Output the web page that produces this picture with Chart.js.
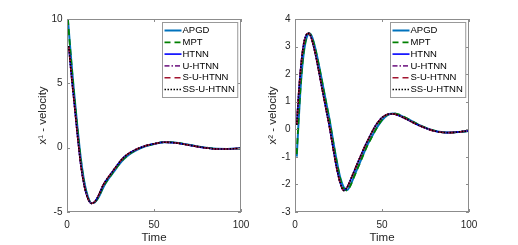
<!DOCTYPE html>
<html>
<head>
<meta charset="utf-8">
<script src="https://cdn.jsdelivr.net/npm/chart.js@4.4.0/dist/chart.umd.min.js"></script>
<style>
  body { margin: 0; background: #fff; }
  .panel { position: absolute; top: 0; width: 259px; height: 245px; }
</style>
</head>
<body>
<div class="panel" style="left:0"><canvas id="plot1" width="259" height="245"></canvas></div>
<div class="panel" style="left:259px"><canvas id="plot2" width="259" height="245"></canvas></div>
<script>
//DATOS
const seriesNames = ['APGD', 'MPT', 'HTNN', 'U-HTNN', 'S-U-HTNN', 'SS-U-HTNN'];
const xTicks = [0, 50, 100];
const yTicks1 = [-5, 0, 5, 10];
const yTicks2 = [-3, -2, -1, 0, 1, 2, 3, 4];

// x^1 velocity
const time1Start = [0.5, 1, 2, 3, 4, 6, 8, 10, 12, 14, 16, 18, 21, 24, 27, 30, 33, 36, 40, 45, 50, 56, 62, 68, 74, 80, 86, 92, 100];
const vel1Apgd = [10, 9.2, 7.5, 5.9, 4.4, 1.6, -0.9, -2.7, -3.8, -4.3, -4.25, -3.9, -3.05, -2.4, -1.85, -1.3, -0.85, -0.5, -0.18, 0.1, 0.28, 0.42, 0.4, 0.27, 0.12, 0.0, -0.09, -0.1, -0.05];
const vel1Mpt = [10, 9.1, 7.4, 5.8, 4.3, 1.5, -1.0, -2.8, -3.85, -4.3, -4.22, -3.88, -3.0, -2.38, -1.82, -1.28, -0.82, -0.48, -0.16, 0.11, 0.29, 0.43, 0.4, 0.27, 0.12, 0.0, -0.09, -0.1, -0.05];
const time1 = [1, 2, 3, 4, 6, 8, 10, 12, 14, 16, 18, 21, 24, 27, 30, 33, 36, 40, 45, 50, 56, 62, 68, 74, 80, 86, 92, 100];
const vel1Nets = [7.9, 6.4, 5.0, 3.7, 1.0, -1.4, -3.0, -3.95, -4.33, -4.2, -3.75, -2.85, -2.25, -1.7, -1.15, -0.7, -0.4, -0.12, 0.14, 0.3, 0.42, 0.38, 0.25, 0.1, -0.02, -0.1, -0.1, -0.05];

// x^2 velocity
const time2 = [1, 2, 3, 4, 5, 6, 7, 8, 9, 10, 12, 14, 16, 18, 20, 22, 24, 26, 28, 30, 32, 34, 36, 38, 40, 42, 44, 46, 48, 50, 53, 56, 60, 64, 68, 72, 76, 80, 84, 88, 92, 96, 100];
const vel2Apgd = [-0.99, 0.2, 1.3, 2.15, 2.75, 3.15, 3.38, 3.47, 3.45, 3.32, 2.85, 2.25, 1.6, 0.95, 0.3, -0.45, -1.15, -1.75, -2.1, -2.2, -2.0, -1.7, -1.4, -1.1, -0.8, -0.52, -0.28, -0.05, 0.15, 0.32, 0.5, 0.57, 0.52, 0.4, 0.27, 0.14, 0.03, -0.05, -0.1, -0.12, -0.11, -0.09, -0.06];
const vel2Mpt = [-0.9, 0.3, 1.35, 2.2, 2.8, 3.18, 3.4, 3.48, 3.44, 3.3, 2.82, 2.22, 1.58, 0.92, 0.27, -0.48, -1.18, -1.78, -2.15, -2.22, -2.02, -1.72, -1.42, -1.12, -0.82, -0.54, -0.3, -0.06, 0.16, 0.34, 0.52, 0.58, 0.53, 0.41, 0.27, 0.14, 0.03, -0.05, -0.1, -0.12, -0.11, -0.09, -0.06];
const vel2Nets = [0.16, 1.2, 2.0, 2.65, 3.1, 3.35, 3.47, 3.48, 3.38, 3.18, 2.65, 2.0, 1.33, 0.68, 0.02, -0.72, -1.42, -1.95, -2.22, -2.1, -1.82, -1.52, -1.22, -0.93, -0.64, -0.38, -0.13, 0.1, 0.28, 0.42, 0.54, 0.56, 0.49, 0.37, 0.24, 0.12, 0.02, -0.06, -0.11, -0.12, -0.11, -0.08, -0.06];

//ESTILOS
const lineColors = ['rgb(0,114,189)', 'rgb(0,128,0)', 'rgb(0,0,255)', 'rgb(126,47,142)', 'rgb(162,20,47)', 'rgb(0,0,0)'];
const lineDashes = [[], [6, 4], [], [5, 2, 1.5, 2], [6, 4], [1.5, 1.5]];
const lineWidths = [2, 1.8, 1.6, 1.6, 1.6, 1.6];
const font = 'Liberation Sans, Arial, Helvetica, sans-serif';

function pts(times, vals) {
    return times.map((t, i) => ({ x: t, y: vals[i] }));
}

function makeDatasets(list) {
    return list.map((d, i) => ({
        label: seriesNames[i],
        data: pts(d[0], d[1]),
        borderColor: lineColors[i],
        borderDash: lineDashes[i],
        borderWidth: lineWidths[i],
        pointRadius: 0,
        fill: false,
        cubicInterpolationMode: 'monotone',
        order: 6 - i
    }));
}

//MARCO Y TICKS HACIA DENTRO
const framePlugin = {
    id: 'frame',
    afterDatasetsDraw(chart) {
        const { ctx, chartArea: a, scales: { x, y } } = chart;
        ctx.save();
        ctx.strokeStyle = '#8c8c8c';
        ctx.lineWidth = 1;
        ctx.strokeRect(a.left + 0.5, a.top + 0.5, a.width - 1, a.height - 1);
        ctx.beginPath();
        x.ticks.forEach(t => {
            const px = Math.round(x.getPixelForValue(t.value)) + 0.5;
            ctx.moveTo(px, a.bottom); ctx.lineTo(px, a.bottom - 3);
            ctx.moveTo(px, a.top); ctx.lineTo(px, a.top + 3);
        });
        y.ticks.forEach(t => {
            const py = Math.round(y.getPixelForValue(t.value)) + 0.5;
            ctx.moveTo(a.left, py); ctx.lineTo(a.left + 3, py);
            ctx.moveTo(a.right, py); ctx.lineTo(a.right - 3, py);
        });
        ctx.stroke();
        ctx.restore();
    }
};

//LEYENDA DENTRO DEL AREA
const legendPlugin = {
    id: 'boxLegend',
    afterDraw(chart) {
        const { ctx, chartArea: a } = chart;
        const sets = chart.data.datasets;
        ctx.save();
        ctx.font = '9.5px ' + font;
        const textW = Math.max(...sets.map(s => ctx.measureText(s.label).width));
        const w = 20 + textW + 3;
        const h = 75;
        const left = Math.round(a.right - 4 - w) + 0.5;
        const top = a.top + 3.5;
        ctx.fillStyle = '#fff';
        ctx.fillRect(left, top, w, h);
        ctx.strokeStyle = '#999';
        ctx.lineWidth = 1;
        ctx.strokeRect(left, top, w, h);
        sets.forEach((s, i) => {
            const rowY = top + 8 + i * 11.8;
            ctx.beginPath();
            ctx.setLineDash(s.borderDash);
            ctx.strokeStyle = s.borderColor;
            ctx.lineWidth = s.borderWidth;
            ctx.moveTo(left + 2, rowY);
            ctx.lineTo(left + 19, rowY);
            ctx.stroke();
            ctx.setLineDash([]);
            ctx.fillStyle = '#000';
            ctx.textBaseline = 'middle';
            ctx.textAlign = 'left';
            ctx.fillText(s.label, left + 20, rowY);
        });
        ctx.restore();
    }
};

function makeChart(id, datasets, yMin, yMax, yStep, yTickList, yTitle, yWidth, titlePad, padRight) {
    const ctx = document.getElementById(id).getContext('2d');
    return new Chart(ctx, {
        type: 'line',
        data: { datasets: datasets },
        plugins: [framePlugin, legendPlugin],
        options: {
            responsive: false,
            animation: false,
            layout: { padding: { top: 19, right: padRight, bottom: 0, left: 0 } },
            plugins: { legend: { display: false }, tooltip: { enabled: false } },
            scales: {
                x: {
                    type: 'linear',
                    min: 0, max: 100,
                    afterBuildTicks: s => { s.ticks = xTicks.map(v => ({ value: v })); },
                    afterFit: s => { s.height = 33; },
                    grid: { display: false, drawTicks: false },
                    border: { display: false },
                    ticks: { color: '#262626', font: { family: font, size: 10 }, padding: 7, maxRotation: 0 },
                    title: { display: true, text: 'Time', color: '#262626', font: { family: font, size: 11.5 }, padding: { top: 0, bottom: 0.2 } }
                },
                y: {
                    type: 'linear',
                    min: yMin, max: yMax,
                    afterBuildTicks: s => { s.ticks = yTickList.map(v => ({ value: v })); },
                    afterFit: s => { s.width = yWidth; },
                    grid: { display: false, drawTicks: false },
                    border: { display: false },
                    ticks: { color: '#262626', font: { family: font, size: 10 }, padding: 4.5 },
                    title: { display: true, text: yTitle, color: '#262626', font: { family: font, size: 11.5 }, padding: { top: titlePad, bottom: 0 } }
                }
            }
        }
    });
}

makeChart('plot1', makeDatasets([
    [time1Start, vel1Apgd], [time1Start, vel1Mpt], [time1, vel1Nets],
    [time1, vel1Nets], [time1, vel1Nets], [time1, vel1Nets]
]), -5, 10, 5, yTicks1, 'x\u00b9 - velocity', 67, 36.1, 18);

makeChart('plot2', makeDatasets([
    [time2, vel2Apgd], [time2, vel2Mpt], [time2, vel2Nets],
    [time2, vel2Nets], [time2, vel2Nets], [time2, vel2Nets]
]), -3, 4, 1, yTicks2, 'x\u00b2 - velocity', 36, 7.1, 49);
</script>
</body>
</html>
